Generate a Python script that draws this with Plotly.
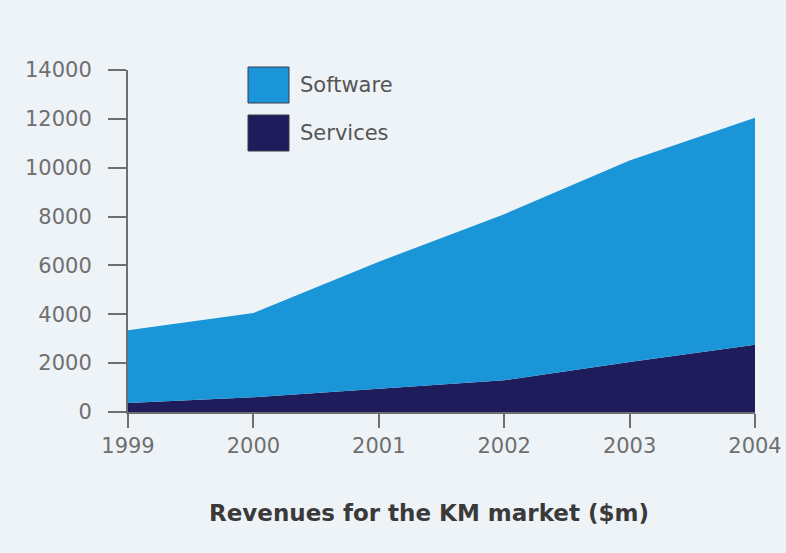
import plotly.graph_objects as go

years = [1999, 2000, 2001, 2002, 2003, 2004]
services = [370, 600, 950, 1300, 2050, 2750]
software = [2980, 3450, 5200, 6800, 8250, 9300]
y_ticks = [0, 2000, 4000, 6000, 8000, 10000, 12000, 14000]
title_text = "Revenues for the KM market ($m)"
series_names = ["Software", "Services"]

col_software = "#1a95d8"
col_services = "#1f1c5b"
col_axis = "#6f6f6f"
col_bg = "#eef3f8"
font_fam = "DejaVu Sans"

fig = go.Figure()
fig.add_trace(go.Scatter(x=years, y=services, name="Services", mode="lines",
                         stackgroup="one", line=dict(width=0, color=col_services),
                         fillcolor=col_services, hoverinfo="x+y"))
fig.add_trace(go.Scatter(x=years, y=software, name="Software", mode="lines",
                         stackgroup="one", line=dict(width=0, color=col_software),
                         fillcolor=col_software, hoverinfo="x+y"))

L, R, T, B = 128, 31, 70, 141
PW = 786 - L - R
PH = 553 - T - B

fig.update_layout(
    width=786, height=553,
    margin=dict(l=L, r=R, t=T, b=B, autoexpand=False),
    paper_bgcolor=col_bg, plot_bgcolor=col_bg,
    showlegend=False,
    font=dict(family=font_fam, size=20, color=col_axis),
)
fig.update_xaxes(range=[1999, 2004], tickvals=years, ticktext=[str(y) for y in years],
                 automargin=False,
                 showgrid=False, zeroline=False, showline=True, linecolor=col_axis,
                 linewidth=2, ticks="outside", ticklen=14, tickwidth=2, tickcolor=col_axis,
                 tickfont=dict(family=font_fam, size=21, color=col_axis))
fig.update_yaxes(range=[0, 14000], tickvals=y_ticks, ticktext=[str(v) for v in y_ticks],
                 automargin=False,
                 showgrid=False, zeroline=False,
                 showline=True, linecolor=col_axis, linewidth=2, ticks="outside",
                 ticklen=18, tickwidth=2, tickcolor=col_axis, ticklabelstandoff=12,
                 tickfont=dict(family=font_fam, size=21, color=col_axis))

# legend swatches (manual, to match the large square keys)
legend_colors = [col_software, col_services]
legend_y = [85, 133]  # pixel centers from top
for name, col, yc in zip(series_names, legend_colors, legend_y):
    fig.add_shape(type="rect", xref="paper", yref="paper",
                  x0=(248 - L) / PW, x1=(289 - L) / PW,
                  y0=(553 - B - (yc + 18)) / PH, y1=(553 - B - (yc - 18)) / PH,
                  fillcolor=col, line=dict(color="#3a3a4a", width=1), layer="above")
    fig.add_annotation(xref="paper", yref="paper", x=(298 - L) / PW,
                       y=(553 - B - yc) / PH, text=name, showarrow=False,
                       xanchor="left", yanchor="middle",
                       font=dict(family=font_fam, size=21, color="#555555"))

fig.add_annotation(xref="paper", yref="paper", x=(429 - L) / PW, y=(553 - B - 513) / PH,
                   text="<b>" + title_text + "</b>", showarrow=False,
                   xanchor="center", yanchor="middle",
                   font=dict(family=font_fam, size=23, color="#3a3a3a"))

fig.write_html("out.html")
